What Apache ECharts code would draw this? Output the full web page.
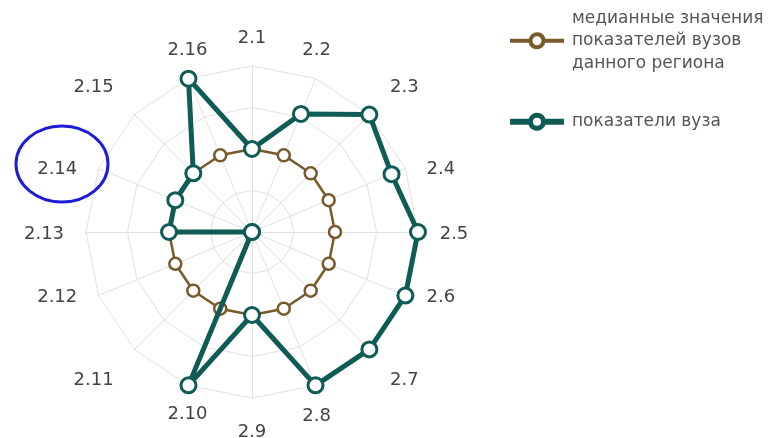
<!DOCTYPE html>
<html><head><meta charset="utf-8">
<script src="https://cdn.jsdelivr.net/npm/echarts@6/dist/echarts.min.js"></script>
<style>html,body{margin:0;padding:0;background:#fff}#c{width:771px;height:438px}</style>
</head><body><div id="c"></div>
<script>
var indicators = ['2.1','2.2','2.3','2.4','2.5','2.6','2.7','2.8','2.9','2.10','2.11','2.12','2.13','2.14','2.15','2.16'];
var medianName = 'медианные значения\nпоказателей вузов\nданного региона';
var uniName = 'показатели вуза';
var medianValues = [0.5,0.5,0.5,0.5,0.5,0.5,0.5,0.5,0.5,0.5,0.5,0.5,0.5,0.5,0.5,0.5];
var uniValues = [0.5,0.77,1,0.91,1,1,1,1,0.5,1,0,0,0.5,0.5,0.5,1];

// small per-label nudges [dx, dy] (style only) so axis names sit like the original layout
var labelNudge = [[0,6],[-12,3],[11,-3],[4,14],[2,2],[4,-11],[11,7],[-12,0],[0,0],[12,-2],[-17,7],[-10,-11],[-8,2],[-10,14],[-17,-3],[12,3]];

// ECharts radar runs counter-clockwise; reorder so the picture runs clockwise from the top
function cw(arr){ return [arr[0]].concat(arr.slice(1).reverse()); }

var rich = {};
labelNudge.forEach(function(d, i){
  var pl = d[0] > 0 ? 2*d[0] : 0, pr = d[0] < 0 ? -2*d[0] : 0;
  var pt = d[1] > 0 ? 2*d[1] : 0, pb = d[1] < 0 ? -2*d[1] : 0;
  rich['n' + i] = {color: '#444', fontFamily: 'DejaVu Sans', fontSize: 18, padding: [pt, pr, pb, pl]};
});

var green = '#0f5b56', brown = '#7a5a2b';
var greenIcon = 'path://M0 6H18.25A8 8 0 0 1 33.75 6H52V10H33.75A8 8 0 0 1 18.25 10H0Z M31 8A5 5 0 1 0 21 8A5 5 0 1 0 31 8Z';
var brownIcon = 'path://M0 7H18.57A7.5 7.5 0 0 1 33.43 7H52V9H33.43A7.5 7.5 0 0 1 18.57 9H0Z M31.5 8A5.5 5.5 0 1 0 20.5 8A5.5 5.5 0 1 0 31.5 8Z';

var chart = echarts.init(document.getElementById('c'));
chart.setOption({
  animation: false,
  legend: {
    orient: 'vertical', left: 505, top: 2, itemGap: 36,
    itemWidth: 52, itemHeight: 16,
    textStyle: {fontFamily: 'DejaVu Sans', fontSize: 17, color: '#555', lineHeight: 22.5, padding: [0, 0, 0, 4]},
    data: [
      {name: medianName, icon: brownIcon, itemStyle: {color: brown}},
      {name: uniName, icon: greenIcon, itemStyle: {color: green}}
    ]
  },
  radar: {
    center: [252, 232], radius: 166, startAngle: 90, splitNumber: 4,
    shape: 'polygon',
    indicator: cw(indicators).map(function(n){return {name: n, min: 0, max: 1};}),
    axisName: {
      color: '#444', fontFamily: 'DejaVu Sans', fontSize: 18, align: 'center', verticalAlign: 'middle',
      formatter: function(name){ return '{n' + indicators.indexOf(name) + '|' + name + '}'; },
      rich: rich
    },
    nameGap: 34,
    splitLine: {lineStyle: {color: '#e0e0e0', width: 1}},
    splitArea: {show: false},
    axisLine: {lineStyle: {color: '#e0e0e0', width: 1}}
  },
  graphic: [{
    type: 'ellipse', z: 100,
    shape: {cx: 62, cy: 164, rx: 46, ry: 38},
    style: {fill: 'none', stroke: '#1a1fd6', lineWidth: 3}
  }],
  series: [
    {type: 'radar', name: medianName, symbol: 'circle', symbolSize: 12, z: 2,
     lineStyle: {color: brown, width: 2.5},
     itemStyle: {color: '#fff', borderColor: brown, borderWidth: 2.5},
     data: [{value: cw(medianValues), name: medianName}]},
    {type: 'radar', name: uniName, symbol: 'circle', symbolSize: 15, z: 3,
     lineStyle: {color: green, width: 5},
     itemStyle: {color: '#fff', borderColor: green, borderWidth: 3},
     data: [{value: cw(uniValues), name: uniName}]}
  ]
});
</script></body></html>
